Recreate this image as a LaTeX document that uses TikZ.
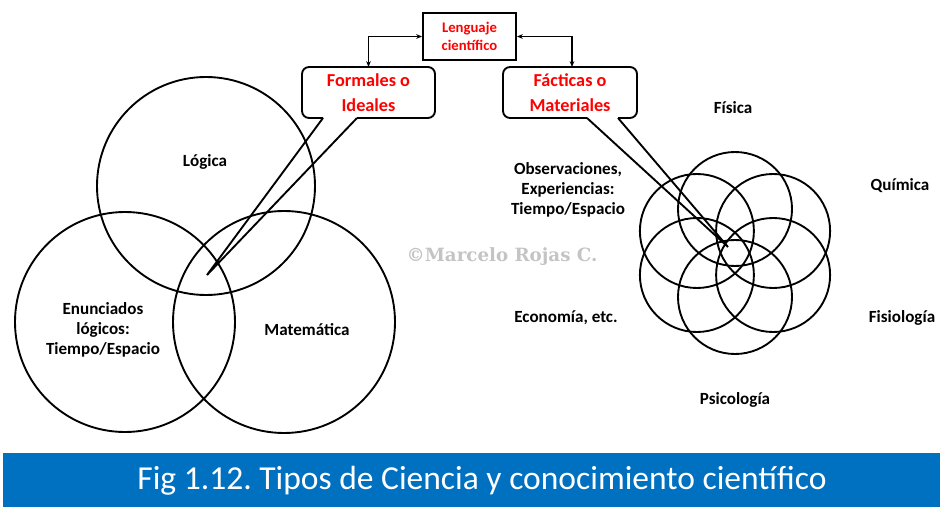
\documentclass[tikz,border=0pt]{standalone}
\usepackage{fontspec}
\setmainfont{Carlito}
\newfontfamily\wmfont{DejaVu Serif}
\usetikzlibrary{arrows.meta,calc}
\definecolor{bannerblue}{HTML}{0070C0}
\definecolor{redtext}{HTML}{FF0000}
\definecolor{wmgray}{HTML}{C4C4C4}
\frenchspacing
\begin{document}
\begin{tikzpicture}[x=0.85pt,y=-0.85pt,
  lbl/.style={font=\bfseries\fontsize{14.5}{17}\selectfont, align=center, inner sep=0pt},
  circ/.style={line width=1.6pt},
  outline/.style={line width=1.6pt},
  redlbl/.style={font=\bfseries\fontsize{15.5}{21}\selectfont, text=redtext, align=center, inner sep=0pt},
  link/.style={line width=1pt, {Stealth[length=5pt,width=4pt]}-{Stealth[length=5pt,width=4pt]}}]
\useasboundingbox (0,0) rectangle (940,507);

% banner
\fill[bannerblue] (3,453) rectangle (940,507);
\node[text=white, font=\fontsize{28.5}{30}\selectfont, inner sep=0pt] (title) at (482,481) {Fig 1.12. Tipos de Ciencia y conocimiento científico};

% watermark
\node[text=wmgray, font=\wmfont\bfseries\fontsize{15.5}{18}\selectfont, inner sep=0pt] (wm) at (502,257) {©Marcelo Rojas C.};

% left Venn
\draw[circ] (206,186) circle (109);
\draw[circ] (125,322) circle (110);
\draw[circ] (284,322) circle (111);
\node[lbl] (logica) at (205,162) {Lógica};
\node[lbl] (enun) at (103,330) {Enunciados\\lógicos:\\Tiempo/Espacio};
\node[lbl] (mate) at (307,330) {Matemática};

% flower
\foreach \a in {90,30,-30,-90,-150,150}{
  \draw[circ] ($(735,253)+(\a:44)$) circle (57);
}
\node[lbl] (fisica) at (733,108) {Física};
\node[lbl] (quimica) at (900,186) {Química};
\node[lbl] (fisio) at (902,318) {Fisiología};
\node[lbl] (psico) at (735,400) {Psicología};
\node[lbl] (econ) at (566,318) {Economía, etc.};
\node[lbl] (obs) at (568,190) {Observaciones,\\Experiencias:\\Tiempo/Espacio};

% top box
\node[draw, line width=1.6pt, minimum width=93*0.85pt, minimum height=47*0.85pt, inner sep=0pt,
      font=\bfseries\fontsize{12.5}{15.3}\selectfont, text=redtext, align=center] (leng) at (469.5,36.5) {Lenguaje\\científico};

% callout boxes
\coordinate (tipF) at (207,275);
\coordinate (tipM) at (728,247);
\fill[white] (302,67) rectangle (435,118);
\draw[outline, rounded corners=6] (323,118) -- (302,118) -- (302,67) -- (435,67) -- (435,118) -- (357,118);
\draw[outline, line join=miter] (323,118) -- (tipF) -- (357,118);
\node[redlbl] (formales) at (368.5,92.5) {Formales o\\Ideales};
\coordinate (formtop) at (368.5,67);

\fill[white] (503,67) rectangle (637,118);
\draw[outline, rounded corners=6] (587,118) -- (503,118) -- (503,67) -- (637,67) -- (637,118) -- (618,118);
\draw[outline, line join=miter] (587,118) -- (tipM) -- (618,118);
\node[redlbl] (facticas) at (570,92.5) {Fácticas o\\Materiales};
\coordinate (facttop) at (572,67);

% links
\draw[link] (leng.west) -| (formtop);
\draw[link] (leng.east) -| (facttop);
\end{tikzpicture}
\end{document}
